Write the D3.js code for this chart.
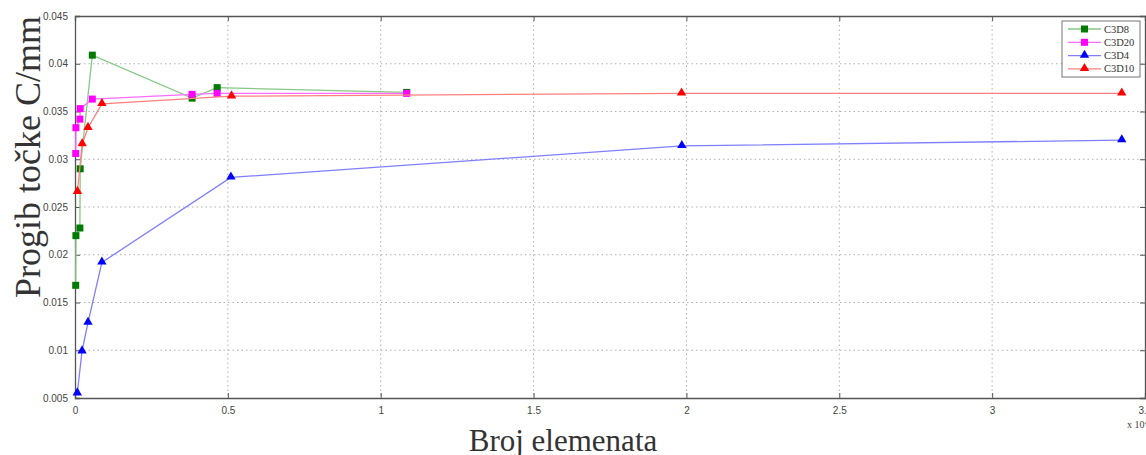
<!DOCTYPE html>
<html>
<head>
<meta charset="utf-8">
<script src="https://cdn.jsdelivr.net/npm/d3@7"></script>
<style>
  body { margin: 0; background: #fff; overflow: hidden; }
  svg { display: block; }
</style>
</head>
<body>
<script>
// data (x = broj elemenata, y = progib u mm)
var c3d8_x  = [23, 30, 160, 170, 566, 3830, 4650, 10850];
var c3d8_y  = [0.0168, 0.0220, 0.0228, 0.0290, 0.0409, 0.0364, 0.0375, 0.0370];
var c3d20_x = [23, 30, 160, 170, 566, 3830, 4650, 10850];
var c3d20_y = [0.0306, 0.0333, 0.0342, 0.0353, 0.0363, 0.0368, 0.0369, 0.0369];
var c3d4_x  = [75, 230, 425, 880, 5100, 19850, 34240];
var c3d4_y  = [0.0055, 0.0099, 0.0129, 0.0192, 0.0281, 0.0314, 0.0320];
var c3d10_x = [80, 235, 425, 880, 5120, 19840, 34240];
var c3d10_y = [0.0266, 0.0316, 0.0333, 0.0358, 0.0366, 0.0369, 0.0369];

var xTicks = [0, 5000, 10000, 15000, 20000, 25000, 30000, 35000];
var xTickLabels = ["0", "0.5", "1", "1.5", "2", "2.5", "3", "3.5"];
var yTicks = [0.005, 0.01, 0.015, 0.02, 0.025, 0.03, 0.035, 0.04, 0.045];
var yTickLabels = ["0.005", "0.01", "0.015", "0.02", "0.025", "0.03", "0.035", "0.04", "0.045"];

var series = [
	{name: "C3D8",  xs: c3d8_x,  ys: c3d8_y,  line: "#86c986", mark: "#007a00", shape: "square"},
	{name: "C3D20", xs: c3d20_x, ys: c3d20_y, line: "#ff6cff", mark: "#ff00ff", shape: "square"},
	{name: "C3D4",  xs: c3d4_x,  ys: c3d4_y,  line: "#7f7fff", mark: "#0000ff", shape: "triangle"},
	{name: "C3D10", xs: c3d10_x, ys: c3d10_y, line: "#ff7f7f", mark: "#ff0000", shape: "triangle"}
];

var W = 1146, H = 455;
var pLeft = 75, pRight = 1145, pTop = 16, pBottom = 398;

var svg = d3.select("body").append("svg")
	.attr("width", W)
	.attr("height", H);

var x = d3.scaleLinear().domain([0, 35000]).range([pLeft, pRight]);
var y = d3.scaleLinear().domain([0.005, 0.045]).range([pBottom, pTop]);

// grid
var grid = svg.append("g").attr("stroke", "#b0b0b0").attr("stroke-dasharray", "1.5,3").attr("stroke-width", 1);
xTicks.slice(1, -1).forEach(function(t){
	grid.append("line").attr("x1", x(t)).attr("x2", x(t)).attr("y1", pTop).attr("y2", pBottom);
});
yTicks.slice(1, -1).forEach(function(t){
	grid.append("line").attr("x1", pLeft).attr("x2", pRight).attr("y1", y(t)).attr("y2", y(t));
});

// axes
var xAxis = d3.axisBottom(x).tickValues(xTicks).tickSize(-5).tickPadding(9)
	.tickFormat(function(d, i){ return xTickLabels[i]; });
var yAxis = d3.axisLeft(y).tickValues(yTicks).tickSize(-5).tickPadding(7)
	.tickFormat(function(d, i){ return yTickLabels[i]; });

var gx = svg.append("g").attr("transform", "translate(0," + pBottom + ")").call(xAxis);
var gy = svg.append("g").attr("transform", "translate(" + pLeft + ",0)").call(yAxis);
var gx2 = svg.append("g").attr("transform", "translate(0," + pTop + ")")
	.call(d3.axisTop(x).tickValues(xTicks).tickSize(-5).tickFormat(""));
var gy2 = svg.append("g").attr("transform", "translate(" + pRight + ",0)")
	.call(d3.axisRight(y).tickValues(yTicks).tickSize(-5).tickFormat(""));

[gx, gy, gx2, gy2].forEach(function(g){
	g.select(".domain").attr("stroke", "#555").attr("stroke-width", 1.3);
	g.selectAll(".tick line").attr("stroke", "#555");
	g.selectAll("text").attr("fill", "#444").style("font-family", "Liberation Sans, Arial, sans-serif").style("font-size", "10px");
});

svg.append("text")
	.attr("x", 1127).attr("y", 428)
	.attr("fill", "#444")
	.style("font-family", "Liberation Serif, serif").style("font-size", "10px")
	.text("x 10\u2074");

// lines and markers
var drawMarker = function(g, cx, cy, shape, color){
	if(shape === "square"){
		g.append("rect")
			.attr("x", cx - 3.5).attr("y", cy - 3.5)
			.attr("width", 7).attr("height", 7)
			.attr("fill", color);
	}
	if(shape === "triangle"){
		g.append("path")
			.attr("d", d3.symbol().type(d3.symbolTriangle).size(38)())
			.attr("transform", "translate(" + cx + "," + (cy - 0.5) + ")")
			.attr("fill", color);
	}
};

var line = d3.line().x(function(d){ return x(d[0]); }).y(function(d){ return y(d[1]); });

series.forEach(function(s){
	var pts = d3.zip(s.xs, s.ys);
	svg.append("path")
		.datum(pts)
		.attr("d", line)
		.attr("fill", "none")
		.attr("stroke", s.line)
		.attr("stroke-width", 1.3);
	var g = svg.append("g");
	pts.forEach(function(p){
		drawMarker(g, x(p[0]), y(p[1]), s.shape, s.mark);
	});
});

// legend
var lg = svg.append("g").attr("transform", "translate(1062,21)");
lg.append("rect")
	.attr("width", 78).attr("height", 56)
	.attr("fill", "#fff").attr("stroke", "#777").attr("stroke-width", 1);
series.forEach(function(s, i){
	var ly = 8 + i * 13.3;
	lg.append("line")
		.attr("x1", 6).attr("x2", 39).attr("y1", ly).attr("y2", ly)
		.attr("stroke", s.line).attr("stroke-width", 1.3);
	drawMarker(lg, 22.5, ly, s.shape, s.mark);
	lg.append("text")
		.attr("x", 42).attr("y", ly + 3.5)
		.attr("fill", "#333")
		.style("font-family", "Liberation Serif, serif").style("font-size", "10.5px")
		.text(s.name);
});

// axis titles
svg.append("text")
	.attr("transform", "translate(40," + 157 + ") rotate(-90)")
	.attr("text-anchor", "middle")
	.attr("fill", "#333")
	.style("font-family", "Liberation Serif, Times New Roman, serif").style("font-size", "36px")
	.text("Progib točke C/mm");

svg.append("text")
	.attr("x", 563).attr("y", 451)
	.attr("text-anchor", "middle")
	.attr("fill", "#333")
	.style("font-family", "Liberation Serif, Times New Roman, serif").style("font-size", "31px")
	.text("Broj elemenata");
</script>
</body>
</html>
